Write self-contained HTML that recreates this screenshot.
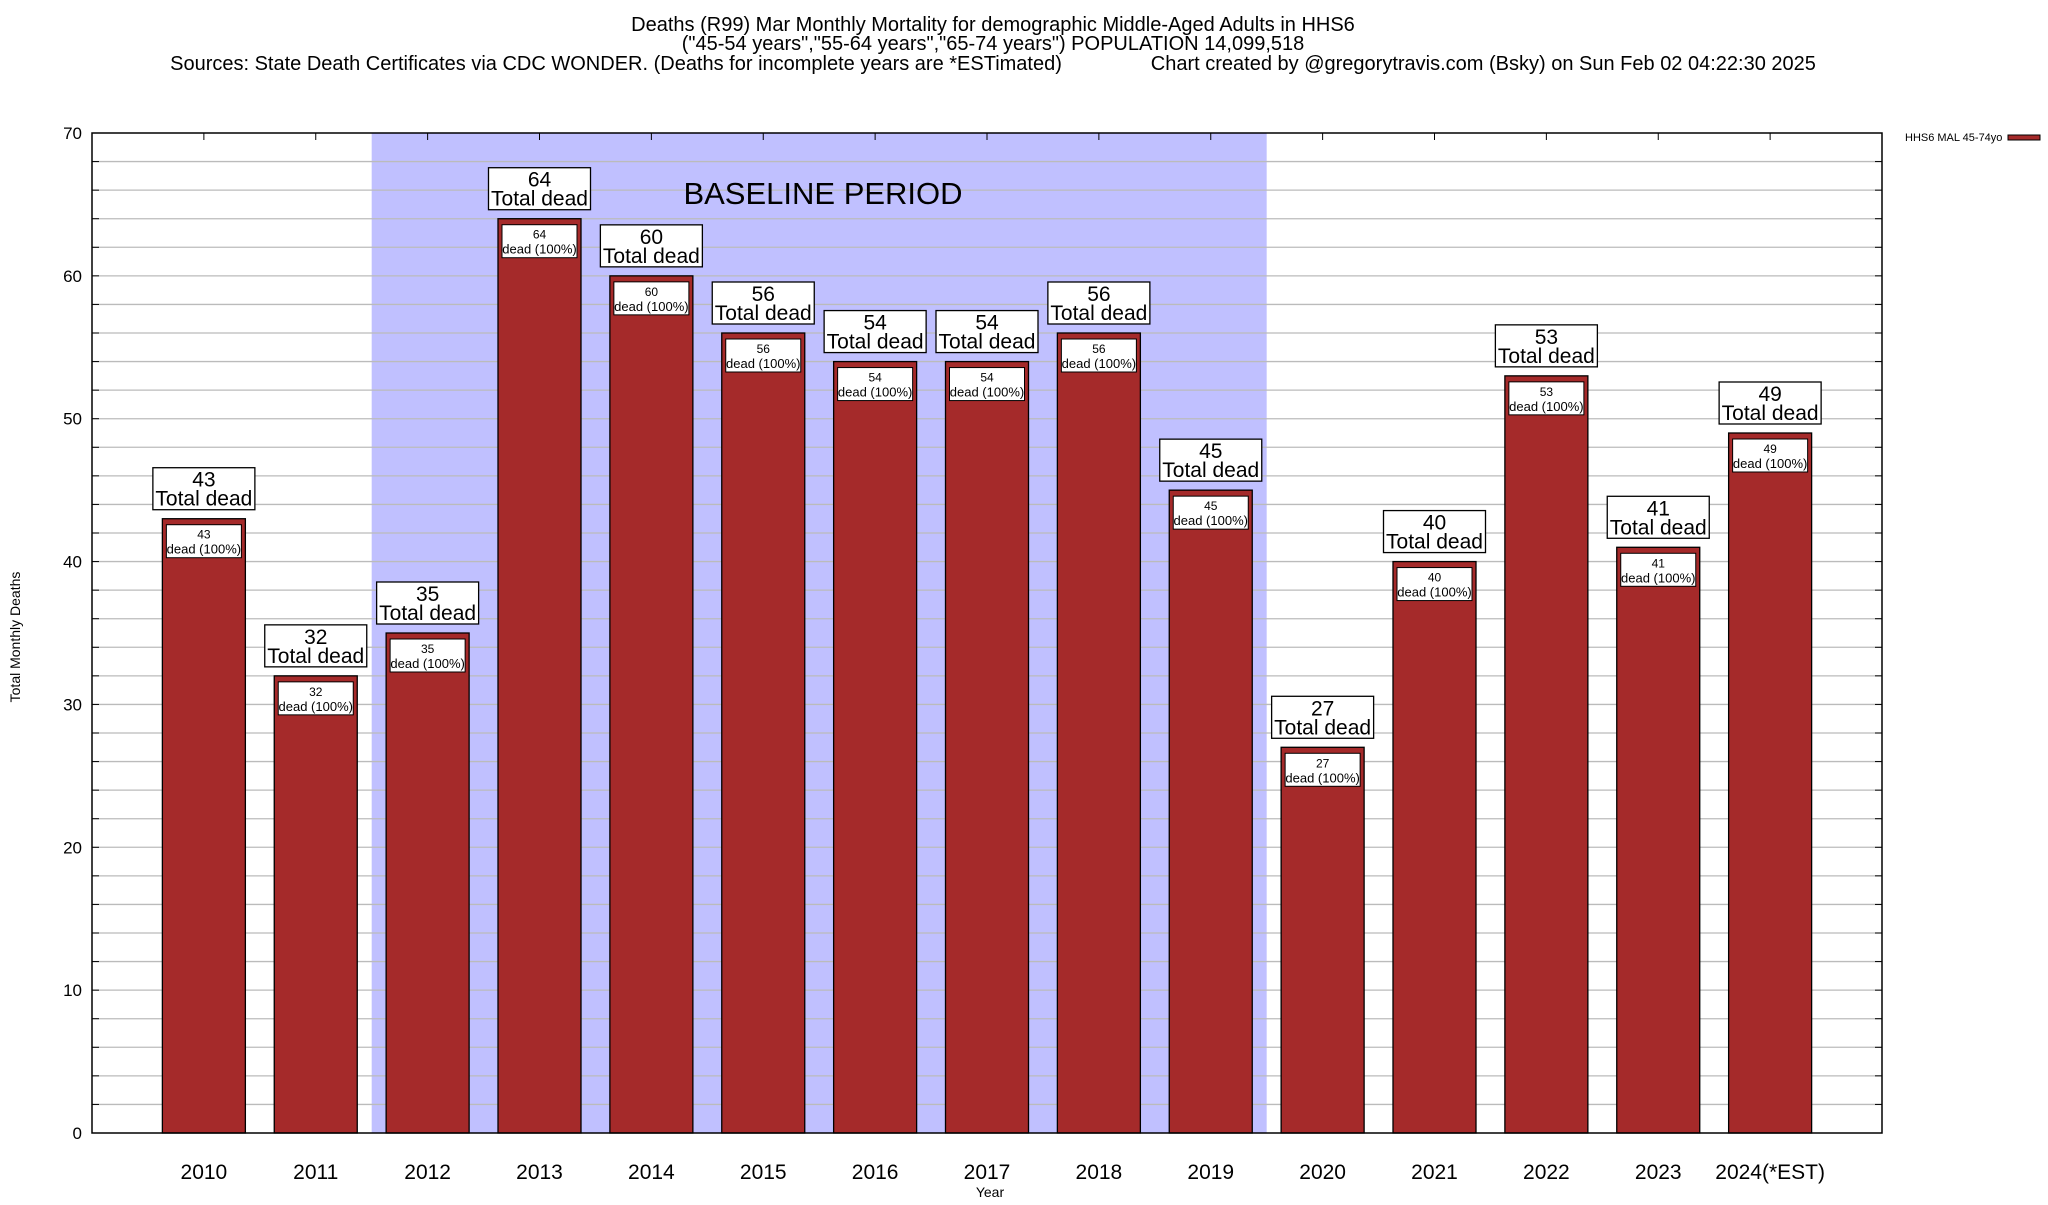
<!DOCTYPE html>
<html><head><meta charset="utf-8">
<style>
html,body{margin:0;padding:0;background:#fff;}
body{width:2048px;height:1200px;overflow:hidden;font-family:"Liberation Sans",Arial,sans-serif;}
</style></head>
<body>
<svg id="chart" width="2048" height="1200" xmlns="http://www.w3.org/2000/svg" font-family="Liberation Sans, Arial, sans-serif">
<g font-size="20" text-anchor="middle" fill="#000">
<text x="993" y="31">Deaths (R99) Mar Monthly Mortality for demographic Middle-Aged Adults in HHS6</text>
<text x="993" y="50">("45-54 years","55-64 years","65-74 years") POPULATION 14,099,518</text>
<text x="993" y="70" xml:space="preserve">Sources: State Death Certificates via CDC WONDER. (Deaths for incomplete years are *ESTimated)                Chart created by @gregorytravis.com (Bsky) on Sun Feb 02 04:22:30 2025</text>
</g>
<g id="plot"></g>
<text x="20" y="637" font-size="14" text-anchor="middle" transform="rotate(-90 20 637)">Total Monthly Deaths</text>
<text x="990" y="1197" font-size="14" text-anchor="middle">Year</text>
<g>
<text x="1905" y="141" font-size="11">HHS6 MAL 45-74yo</text>
<rect x="2008" y="135" width="32" height="5" fill="#a52a2a" stroke="#000" stroke-width="1"/>
</g>
</svg>
<script>
const categories = ["2010","2011","2012","2013","2014","2015","2016","2017","2018","2019","2020","2021","2022","2023","2024(*EST)"];
const deaths = [43,32,35,64,60,56,54,54,56,45,27,40,53,41,49];
const yTicks = [0,10,20,30,40,50,60,70];
const baselineStart = 2, baselineEnd = 9;

const NS = "http://www.w3.org/2000/svg";
const L = 92, R = 1882, T = 133, B = 1133, yMax = 70;
const step = (R - L) / (categories.length + 1);
const bw = 83;
const xPos = i => L + (i + 1) * step;
const yPos = v => B - (v / yMax) * (B - T);
const g = document.getElementById('plot');
function mk(tag, attrs, parent) {
  const e = document.createElementNS(NS, tag);
  for (const k in attrs) e.setAttribute(k, attrs[k]);
  (parent || g).appendChild(e);
  return e;
}
const shade = mk('rect', {x: xPos(baselineStart) - step / 2, y: T, width: (baselineEnd - baselineStart + 1) * step, height: B - T, fill: '#c0c0ff'});


for (let v = 2; v < yMax; v += 2) {
  const gl = mk('line', {x1: L, x2: R, y1: yPos(v), y2: yPos(v), stroke: '#bbbbbb', 'stroke-width': 1.3});
  
  
  mk('line', {x1: L, x2: L + 7, y1: yPos(v), y2: yPos(v), stroke: '#000'});
  mk('line', {x1: R, x2: R - 7, y1: yPos(v), y2: yPos(v), stroke: '#000'});
}
yTicks.forEach(v => {
  const t = mk('text', {x: 82, y: yPos(v) + 6, 'font-size': 17, 'text-anchor': 'end'});
  t.textContent = v;
  
  
});
const bl = mk('text', {x: 823, y: 204, 'font-size': 31, 'text-anchor': 'middle'});
bl.textContent = 'BASELINE PERIOD';


categories.forEach((c, i) => {
  const x = xPos(i), v = deaths[i], y = yPos(v);
  mk('line', {x1: x, x2: x, y1: T, y2: T + 7, stroke: '#000'});
  const bar = mk('rect', {x: x - bw / 2, y: y, width: bw, height: B - y, fill: '#a52a2a', stroke: '#000', 'stroke-width': 1.3});
  
  
  const ib = mk('rect', {x: x - bw / 2 + 4, y: y + 6, width: bw - 8, height: 33, fill: '#fff', stroke: '#000', 'stroke-width': 1});
  
  
  const t1 = mk('text', {x: x, y: y + 20, 'font-size': 12, 'text-anchor': 'middle'});
  t1.textContent = v;
  
  
  const t2 = mk('text', {x: x, y: y + 35, 'font-size': 13, 'text-anchor': 'middle'});
  t2.textContent = 'dead (100%)';
  
  
  const ob = mk('rect', {x: x - 51, y: y - 51, width: 102, height: 42, fill: '#fff', stroke: '#000', 'stroke-width': 1.3});
  
  
  const t3 = mk('text', {x: x, y: y - 32, 'font-size': 21, 'text-anchor': 'middle'});
  t3.textContent = v;
  
  
  const t4 = mk('text', {x: x, y: y - 13, 'font-size': 21, 'text-anchor': 'middle'});
  t4.textContent = 'Total dead';
  
  
  const xl = mk('text', {x: x, y: 1179, 'font-size': 21, 'text-anchor': 'middle'});
  xl.textContent = c;
  
  
});
const frame = mk('rect', {x: L, y: T, width: R - L, height: B - T, fill: 'none', stroke: '#000', 'stroke-width': 1.5});


</script>
</body></html>
